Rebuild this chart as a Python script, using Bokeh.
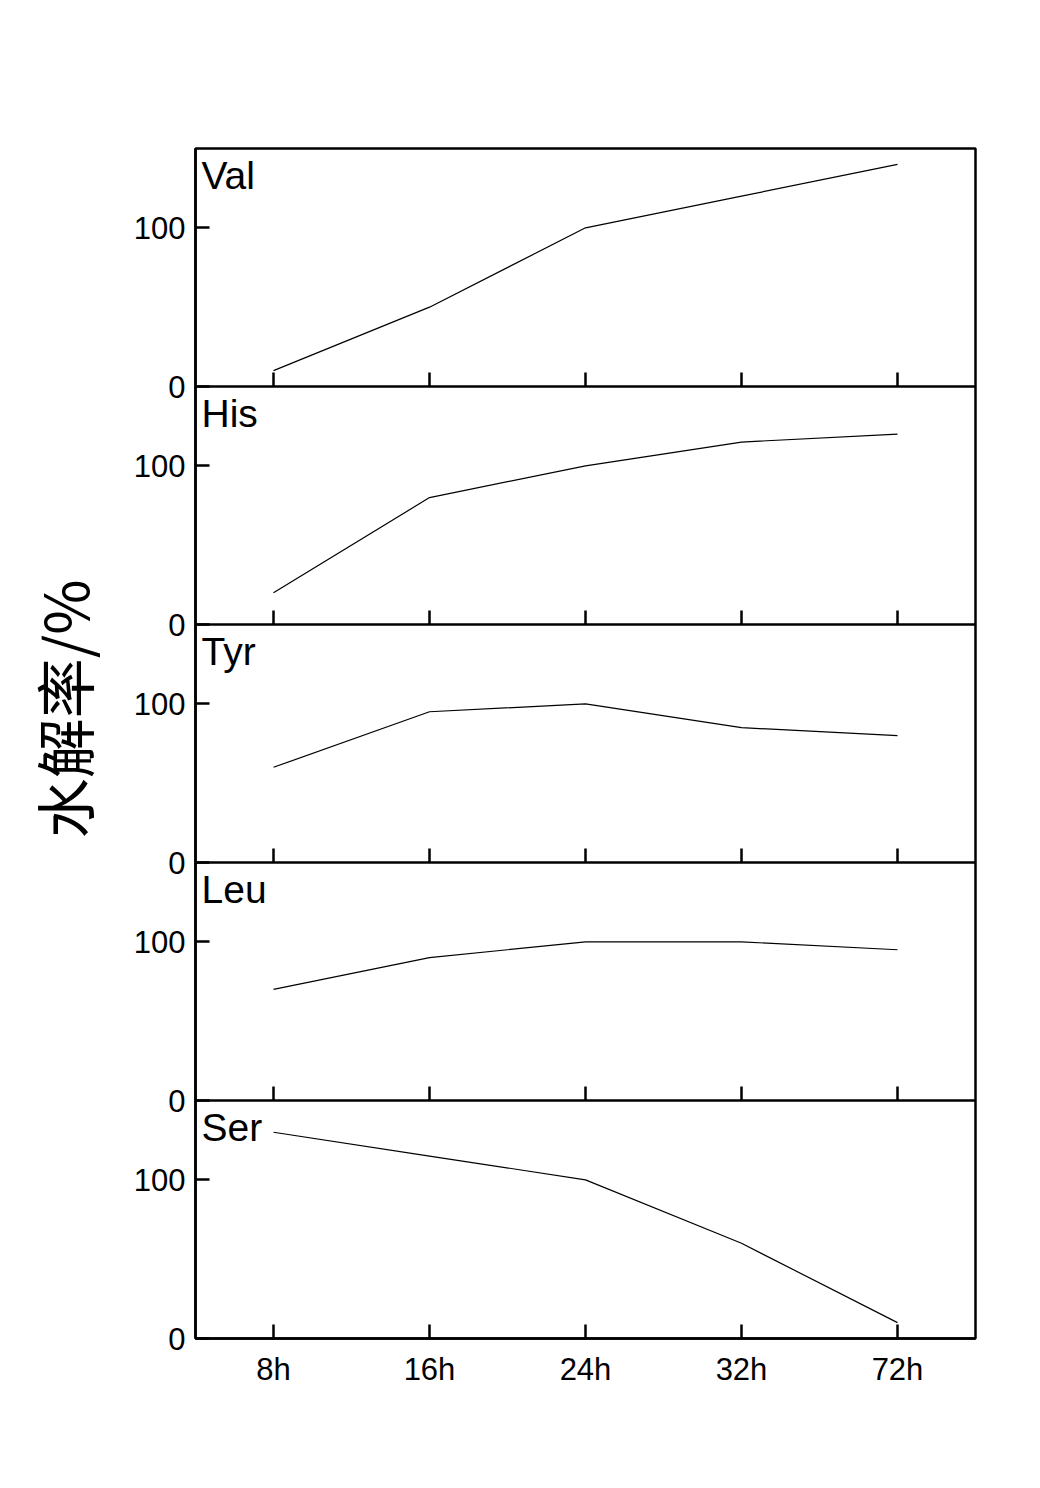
import math
from bokeh.plotting import figure
from bokeh.models import FactorRange, Range1d, FixedTicker, Span, ColumnDataSource
from bokeh.layouts import row
from bokeh.transform import dodge
from bokeh.core.properties import value
from bokeh.embed import file_html
from bokeh.resources import INLINE

times = ["8h", "16h", "24h", "32h", "72h"]
names = ["Val", "His", "Tyr", "Leu", "Ser"]
val = [10, 50, 100, 120, 140]
his = [20, 80, 100, 115, 120]
tyr = [60, 95, 100, 85, 80]
leu = [70, 90, 100, 100, 95]
ser = [130, 115, 100, 60, 10]
yticks = [0, 100]
ylabel = "水解率/%"

series = [val, his, tyr, leu, ser]
span = 150
n = len(names)

FONT = "Liberation Sans"

p = figure(x_range=FactorRange(factors=times), y_range=Range1d(0, span * n),
           frame_width=780, frame_height=1190,
           min_border_left=77, min_border_top=148, min_border_bottom=70, min_border_right=30,
           output_backend="svg", toolbar_location=None)
p.grid.visible = False
p.outline_line_color = "black"
p.outline_line_width = 2.5
p.outline_line_alpha = 1

src = ColumnDataSource(dict(t=times, **{nm: s for nm, s in zip(names, series)}))
for i, nm in enumerate(names):
    off = span * (n - 1 - i)
    p.line(x="t", y=dodge(nm, off), source=src, line_color="black", line_width=1.2)
    p.text(x=[0], y=[off + span], text=[nm], text_font=value(FONT), text_font_size="39px",
           text_color="black", text_align="left", text_baseline="top", x_offset=6, y_offset=5)

# y ticks per panel
ticks = []
overrides = {}
for i in range(n):
    base = span * i
    for t in yticks:
        ticks.append(base + t)
        overrides[base + t] = str(t)
yax = p.yaxis[0]
yax.ticker = FixedTicker(ticks=ticks)
yax.major_label_overrides = overrides
yax.minor_tick_line_color = None
yax.major_tick_in = 14
yax.major_tick_out = 0
yax.major_tick_line_width = 2.5
yax.axis_line_width = 2.5
yax.major_label_text_font = FONT
yax.major_label_text_font_size = "31px"
yax.major_label_text_color = "black"
yax.major_label_standoff = 10

xax = p.xaxis[0]
xax.major_tick_in = 14
xax.major_tick_out = 0
xax.major_tick_line_width = 2.5
xax.axis_line_width = 2.5
xax.major_label_text_font = FONT
xax.major_label_text_font_size = "31px"
xax.major_label_text_color = "black"
xax.major_label_standoff = 13

for i in range(1, n):
    b = span * i
    p.add_layout(Span(location=b, dimension="width", line_color="black", line_width=2.5))
    p.ray(x=times, y=[b] * len(times), length=14, length_units="screen",
          angle=math.pi / 2, line_color="black", line_width=2.5)

H = 148 + 1190 + 70
W = 118
lf = figure(width=W, height=H, x_range=Range1d(0, W), y_range=Range1d(0, H),
            min_border=0, output_backend="svg", toolbar_location=None)
lf.axis.visible = False
lf.grid.visible = False
lf.outline_line_color = None
lf.text(x=[62], y=[H - 663], text=[ylabel], angle=math.pi / 2,
        text_font=value("Noto Sans CJK SC"), text_font_size="60px", text_color="black",
        text_align="center", text_baseline="middle")

layout = row(lf, p)
open("out.html", "w").write(file_html(layout, INLINE))
